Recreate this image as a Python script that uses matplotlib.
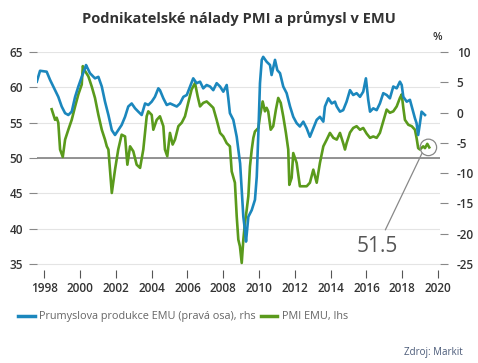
import matplotlib
matplotlib.use("Agg")
import matplotlib.pyplot as plt
from matplotlib.lines import Line2D
from matplotlib.patches import Ellipse

# ---- data ----
ip_years = [1997.58, 1997.76, 1998.13, 1998.32, 1998.50, 1998.78, 1998.97, 1999.16, 1999.34, 1999.53,
            1999.72, 1999.90, 2000.09, 2000.27, 2000.33, 2000.55, 2000.83, 2001.02, 2001.21, 2001.39,
            2001.58, 2001.77, 2001.95, 2002.13, 2002.32, 2002.51, 2002.69, 2002.88, 2003.07, 2003.25,
            2003.44, 2003.63, 2003.81, 2004.00, 2004.18, 2004.37, 2004.46, 2004.65, 2004.84, 2005.03,
            2005.21, 2005.40, 2005.58, 2005.77, 2005.96, 2006.14, 2006.32, 2006.51, 2006.70, 2006.88,
            2007.07, 2007.26, 2007.44, 2007.63, 2007.82, 2008.00, 2008.19, 2008.28, 2008.37, 2008.56,
            2008.75, 2008.94, 2009.03, 2009.12, 2009.21, 2009.27, 2009.40, 2009.59, 2009.77, 2009.87,
            2009.96, 2010.05, 2010.15, 2010.23, 2010.42, 2010.61, 2010.70, 2010.89, 2011.02, 2011.17,
            2011.35, 2011.54, 2011.73, 2011.91, 2012.10, 2012.28, 2012.47, 2012.66, 2012.84, 2013.03,
            2013.22, 2013.40, 2013.59, 2013.68, 2013.87, 2014.06, 2014.24, 2014.34, 2014.52, 2014.70,
            2014.89, 2015.08, 2015.26, 2015.45, 2015.64, 2015.82, 2015.97, 2016.10, 2016.20, 2016.38,
            2016.57, 2016.75, 2016.94, 2017.13, 2017.31, 2017.50, 2017.69, 2017.87, 2017.97, 2018.06,
            2018.25, 2018.43, 2018.53, 2018.61, 2018.71, 2018.80, 2018.89, 2018.99, 2019.08, 2019.17,
            2019.27]
ip_values = [5.1, 6.9, 6.75, 5.4, 4.3, 2.6, 1.0, -0.1, -0.4, 0.15,
             2.6, 4.3, 5.9, 7.3, 7.85, 6.5, 5.65, 5.9, 4.3, 1.8,
             -0.4, -2.9, -3.7, -2.9, -2.05, -0.7, 1.0, 1.5, 0.7, 0.15,
             -0.4, 1.5, 1.25, 1.8, 2.6, 4.0, 3.7, 2.35, 1.25, 1.5,
             1.25, 1.0, 1.5, 2.6, 2.9, 4.3, 5.65, 4.85, 5.1, 4.0,
             4.55, 4.3, 3.7, 4.85, 4.3, 3.45, 4.55, 2.35, -0.1, -1.2,
             -4.0, -8.4, -12.8, -17.2, -19.4, -21.3, -17.2, -16.1, -14.4, -10.6,
             -3.4, 4.85, 8.7, 9.2, 8.4, 7.85, 6.2, 8.7, 7.0, 6.5,
             4.3, 3.2, 1.0, -0.7, -1.75, -2.3, -1.5, -2.6, -4.0, -2.6,
             -1.2, -0.7, -1.5, 1.0, 2.35, 1.5, 1.8, 1.0, 0.15, 0.4,
             1.8, 3.7, 2.9, 3.2, 2.6, 3.45, 5.65, 2.1, 0.15, 0.7,
             0.4, 1.5, 3.2, 2.9, 2.35, 4.3, 4.0, 5.1, 4.55, 2.6,
             1.8, 2.1, 1.0, 0.15, -0.95, -1.75, -3.7, -1.75, 0.15, -0.1,
             -0.4]

pmi_years = [1998.41, 1998.60, 1998.69, 1998.78, 1998.88, 1999.03, 1999.16, 1999.34, 1999.53, 1999.72,
             1999.90, 2000.09, 2000.15, 2000.23, 2000.46, 2000.65, 2000.83, 2001.02, 2001.21, 2001.39,
             2001.49, 2001.58, 2001.77, 2001.95, 2002.13, 2002.32, 2002.51, 2002.64, 2002.79, 2002.97,
             2003.16, 2003.35, 2003.53, 2003.72, 2003.81, 2004.00, 2004.09, 2004.28, 2004.46, 2004.65,
             2004.74, 2004.87, 2005.02, 2005.17, 2005.30, 2005.49, 2005.68, 2005.86, 2006.04, 2006.23,
             2006.42, 2006.57, 2006.70, 2006.88, 2007.07, 2007.26, 2007.44, 2007.63, 2007.82, 2008.00,
             2008.19, 2008.37, 2008.47, 2008.65, 2008.75, 2008.84, 2008.93, 2009.03, 2009.12, 2009.21,
             2009.31, 2009.40, 2009.49, 2009.59, 2009.68, 2009.77, 2009.96, 2010.05, 2010.20, 2010.33,
             2010.42, 2010.51, 2010.65, 2010.79, 2010.94, 2011.07, 2011.21, 2011.35, 2011.50, 2011.63,
             2011.69, 2011.82, 2011.91, 2012.10, 2012.28, 2012.66, 2012.84, 2013.03, 2013.22, 2013.40,
             2013.59, 2013.78, 2013.96, 2014.15, 2014.34, 2014.52, 2014.70, 2014.80, 2014.89, 2015.08,
             2015.26, 2015.45, 2015.64, 2015.82, 2016.01, 2016.20, 2016.38, 2016.57, 2016.75, 2016.94,
             2017.13, 2017.31, 2017.50, 2017.69, 2017.87, 2017.97, 2018.06, 2018.15, 2018.34, 2018.53,
             2018.71, 2018.80, 2018.89, 2018.99, 2019.17, 2019.27, 2019.40, 2019.51]
pmi_values = [56.9, 55.4, 55.7, 55.0, 51.2, 50.15, 52.6, 54.0, 55.4, 57.3,
              59.0, 60.4, 63.0, 62.5, 61.55, 60.1, 58.5, 56.1, 54.0, 52.6,
              51.65, 51.2, 45.05, 48.35, 51.2, 53.3, 53.05, 49.05, 51.65, 50.95,
              49.05, 48.6, 51.2, 55.9, 56.6, 56.1, 54.0, 55.4, 55.9, 54.5,
              51.2, 50.25, 53.55, 51.9, 52.6, 54.5, 55.0, 55.9, 57.8, 59.7,
              60.6, 58.7, 57.3, 57.8, 58.0, 57.55, 57.1, 55.4, 53.55, 53.05,
              52.1, 51.65, 48.1, 46.5, 41.75, 38.45, 37.5, 35.15, 38.45, 40.8,
              42.7, 44.6, 48.8, 51.2, 52.85, 53.75, 54.25, 55.9, 58.0, 56.6,
              57.1, 56.6, 54.0, 54.5, 56.85, 58.5, 57.8, 55.9, 53.55, 51.2,
              46.2, 47.2, 50.7, 49.3, 46.0, 46.0, 46.5, 48.35, 46.5, 49.3,
              51.65, 52.6, 53.55, 52.85, 52.6, 53.55, 52.1, 51.2, 52.1, 53.6,
              54.25, 54.5, 54.0, 54.25, 53.45, 52.85, 53.05, 52.85, 53.55, 55.2,
              56.85, 56.4, 56.6, 57.3, 58.5, 59.0, 57.1, 55.4, 54.7, 54.5,
              54.0, 52.85, 51.4, 51.2, 51.65, 51.4, 52.0, 51.5]

year_ticks = [1998, 2000, 2002, 2004, 2006, 2008, 2010, 2012, 2014, 2016, 2018, 2020]
left_ticks = [35, 40, 45, 50, 55, 60, 65]
right_ticks = [-25, -20, -15, -10, -5, 0, 5, 10]
last_pmi_label = "51.5"

BLUE = "#1b87bd"
GREEN = "#5a9a1c"
TICKC = "#333333"

W, H = 478, 363
fig = plt.figure(figsize=(W / 100, H / 100), dpi=100)
plt.rcParams['font.family'] = ['Open Sans', 'DejaVu Sans']

def fx(px): return px / W
def fy(py): return 1 - py / H

ax_l, ax_r, ax_t, ax_b = 37, 440, 52, 270
ax = fig.add_axes([fx(ax_l), fy(ax_b), fx(ax_r - ax_l), (ax_b - ax_t) / H])
ax2 = ax.twinx()

ylo, yhi = 34.15, 65.0
def to_right(p): return (p - 65) * 7 / 6 + 10
ax.set_ylim(ylo, yhi)
ax2.set_ylim(to_right(ylo), to_right(yhi))
ax.set_xlim(1997.59, 2020.11)

for v in left_ticks:
    ax.axhline(v, color="#e4e4e4", lw=0.8, zorder=0)
ax.axhline(50, color="#8a8a8a", lw=1.3, zorder=1)

ax.plot(pmi_years, pmi_values, color=GREEN, lw=1.9, zorder=3, solid_joinstyle="round")
ax2.plot(ip_years, ip_values, color=BLUE, lw=1.9, zorder=3, solid_joinstyle="round")

for a in (ax, ax2):
    for s in a.spines.values():
        s.set_visible(False)
    a.patch.set_visible(False)

ax.set_yticks(left_ticks)
ax.set_yticklabels([str(v) for v in left_ticks])
ax2.set_yticks(right_ticks)
ax2.set_yticklabels([str(v) for v in right_ticks])
ax.set_xticks(year_ticks)
ax.set_xticklabels([str(v) for v in year_ticks])

ax.tick_params(axis="y", length=6, width=0.8, color="#888888", pad=4,
               labelsize=8.5, labelcolor=TICKC)
ax2.tick_params(axis="y", length=6, width=0.8, color="#888888", pad=6,
                labelsize=8.5, labelcolor=TICKC)
ax.tick_params(axis="x", length=6, width=0.8, color="#555555", pad=3,
               labelsize=8.5, labelcolor=TICKC)
for lab in ax.get_xticklabels() + ax.get_yticklabels() + ax2.get_yticklabels():
    lab.set_fontweight("semibold")

# annotation for last PMI value
ex, ey = pmi_years[-1] - 0.05, pmi_values[-1]
circ = Ellipse((ex, ey), width=16.5 / 17.9, height=16.5 / 7.07, fill=False,
               edgecolor="#888888", lw=0.9, zorder=5)
ax.add_patch(circ)
ax.annotate(last_pmi_label, xy=(ex - 0.36, ey - 0.85), xytext=(2016.6, 38.9),
            textcoords="data", fontsize=15, color="#555555",
            ha="center", va="top",
            arrowprops=dict(arrowstyle="-", color="#888888", lw=0.9,
                            shrinkA=3, shrinkB=0), zorder=6)

fig.text(0.5, fy(18), "Podnikatelské nálady PMI a průmysl v EMU", ha="center", va="center",
         fontsize=10.5, fontweight="bold", color="#333333")
fig.text(fx(437), fy(37), "%", ha="center", va="center", fontsize=8, color=TICKC,
         fontweight="semibold")

handles = [Line2D([0], [0], color=BLUE, lw=2.5),
           Line2D([0], [0], color=GREEN, lw=2.5)]
fig.legend(handles, ["Prumyslova produkce EMU (pravá osa), rhs", "PMI EMU, lhs"],
           loc="center left", bbox_to_anchor=(fx(14), fy(317)), ncol=2, frameon=False,
           fontsize=7.8, labelcolor="#666666", handlelength=1.5, handletextpad=0.4,
           columnspacing=0.5, borderaxespad=0)
fig.text(fx(463), fy(352), "Zdroj: Markit", ha="right", va="center", fontsize=7,
         color="#4a5a78")

fig.savefig("out.png", dpi=100)
